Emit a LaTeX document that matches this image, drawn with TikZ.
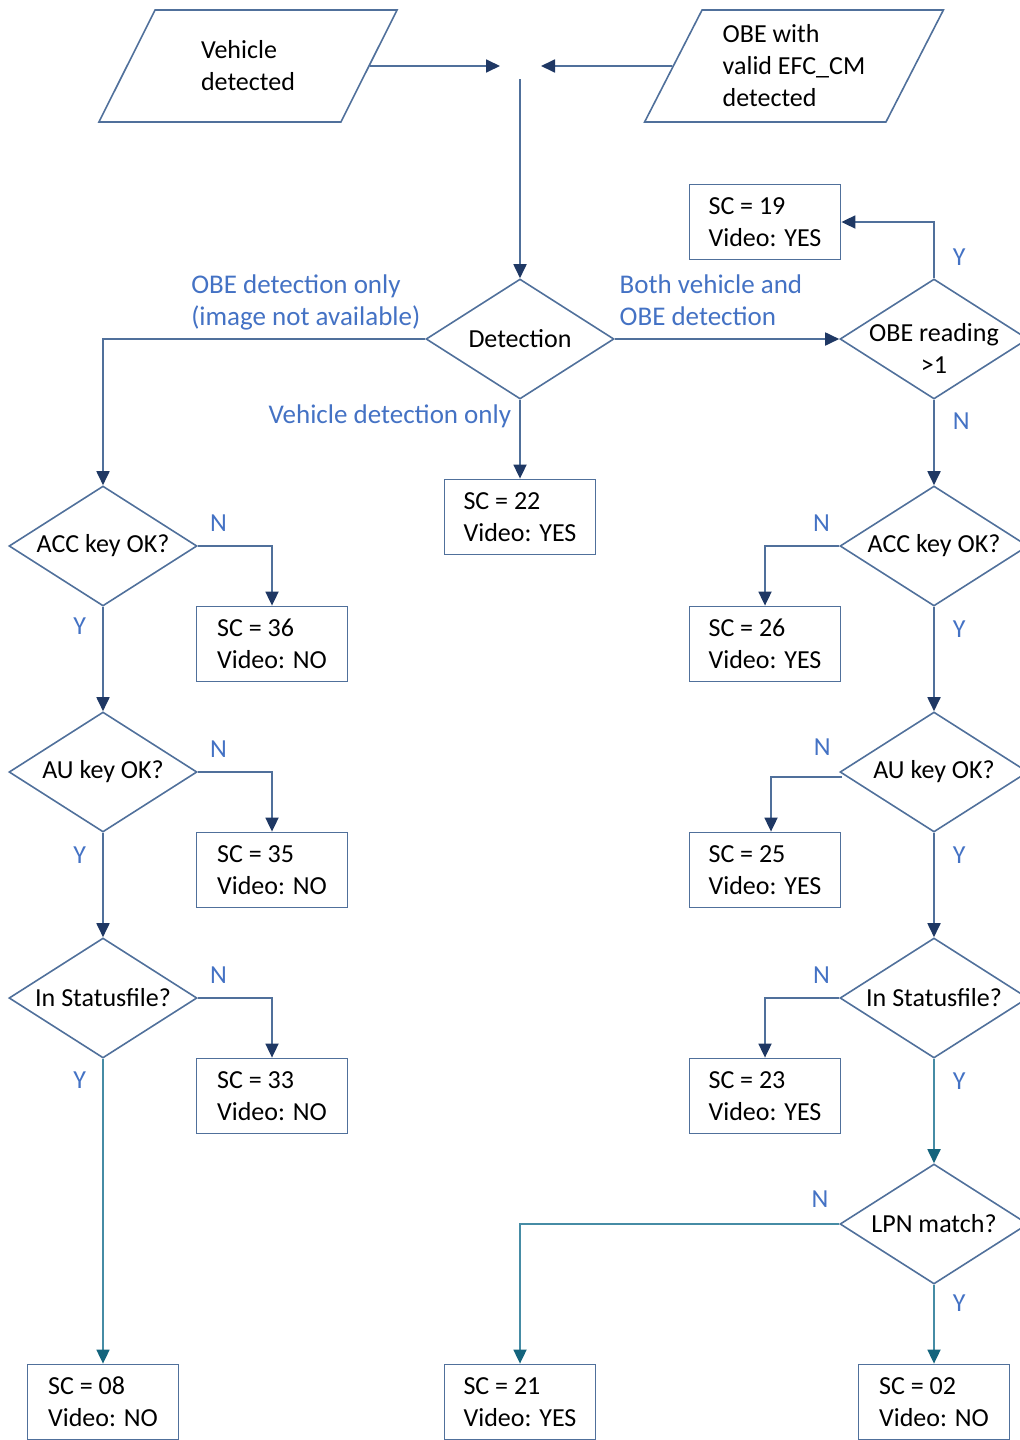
\documentclass[tikz,border=0pt]{standalone}
\usepackage{fontspec}
\setmainfont{Carlito}
\usepackage{xcolor}
\usepackage{tikz}
\usetikzlibrary{shapes.geometric,arrows.meta}
\definecolor{edge}{RGB}{80,112,155}
\definecolor{tip}{RGB}{31,56,100}
\definecolor{tealline}{RGB}{70,140,165}
\definecolor{tealtip}{RGB}{20,100,125}
\definecolor{lbl}{RGB}{68,114,196}

\begin{document}
\begin{tikzpicture}[x=0.5pt, y=-0.5pt, node distance=113pt, font=\fontsize{13}{16}\selectfont,
  io/.style = {draw=edge, line width=0.8pt, trapezium, trapezium left angle=63, trapezium right angle=117, trapezium stretches=true, minimum width=149.5pt, minimum height=56pt, align=left},
  dec/.style = {draw=edge, line width=0.8pt, diamond, aspect=1.567, minimum width=94pt, minimum height=60pt, inner sep=-2pt, align=center},
  res/.style = {draw=edge, line width=0.9pt, rectangle, minimum width=75.5pt, minimum height=37.5pt, align=left},
  flow/.style = {draw=edge, line width=0.9pt, -{Triangle[length=7pt,width=6.5pt,color=tip]}},
  tflow/.style = {draw=tealline, line width=0.9pt, -{Triangle[length=7pt,width=6.5pt,color=tealtip]}},
  yn/.style = {text=lbl, inner sep=1pt},
  note/.style = {text=lbl, align=left, inner sep=2pt, font=\fontsize{13.5}{16}\selectfont}]
\useasboundingbox (0,0) rectangle (1020,1440);
\node[io] (veh) at (248,66) {Vehicle\\detected};
\node[io] (obe) at (794,66) {OBE with\\valid EFC\_CM\\detected};
\coordinate (jl) at (500,66);
\coordinate (jr) at (541,66);
\coordinate (jd) at (520,79);
\node[dec] (det) at (520,339) {Detection};
\node[dec] (rd) at (934,339) [label={[align=center, yshift=-4.5pt]center:{OBE reading\\>1}}] {};
\node[res] (s19) at (765,222) {SC = 19\\Video: YES};
\node[res] (s22) at (520,517) {SC = 22\\Video: YES};
\node[dec] (accl) at (103,546) {ACC key OK?};
\node[dec] (aul) [below of=accl] {AU key OK?};
\node[dec] (stl) [below of=aul] {In Statusfile?};
\node[res] (s36) at (272,644) {SC = 36\\Video: NO};
\node[res] (s35) at (272,870) {SC = 35\\Video: NO};
\node[res] (s33) at (272,1096) {SC = 33\\Video: NO};
\node[res] (s08) at (103,1402) {SC = 08\\Video: NO};
\node[dec] (accr) at (934,546) {ACC key OK?};
\node[dec] (aur) [below of=accr] {AU key OK?};
\node[dec] (str) [below of=aur] {In Statusfile?};
\node[dec] (lpn) [below of=str] {LPN match?};
\node[res] (s26) at (765,644) {SC = 26\\Video: YES};
\node[res] (s25) at (765,870) {SC = 25\\Video: YES};
\node[res] (s23) at (765,1096) {SC = 23\\Video: YES};
\node[res] (s21) at (520,1402) {SC = 21\\Video: YES};
\node[res] (s02) at (934,1402) {SC = 02\\Video: NO};
\draw[flow] (veh.east) -- (jl);
\draw[flow] (obe.west) -- (jr);
\draw[flow] (jd) -- (det.north);
\draw[flow] (det.west) -| node[pos=0, note, above left, yshift=2pt] {OBE detection only\\(image not available)} (accl.north);
\draw[flow] (det.east) -- node[pos=0, note, above right, yshift=4pt] {Both vehicle and\\OBE detection} (rd.west);
\draw[flow] (det.south) -- node[pos=0, note, below left, xshift=-2pt] {Vehicle detection only} (s22.north);
\draw[flow] (rd.north) |- node[pos=0.19, yn, right=8pt] {Y} (s19.east);
\draw[flow] (rd.south) -- node[pos=0.25, yn, right=8pt] {N} (accr.north);
\draw[flow] (accl.east) -| node[pos=0.14, yn, above=6pt] {N} (s36.north);
\draw[flow] (accl.south) -- node[pos=0.19, yn, left=7pt] {Y} (aul.north);
\draw[flow] (aul.east) -| node[pos=0.14, yn, above=6pt] {N} (s35.north);
\draw[flow] (aul.south) -- node[pos=0.21, yn, left=7pt] {Y} (stl.north);
\draw[flow] (stl.east) -| node[pos=0.14, yn, above=6pt] {N} (s33.north);
\draw[tflow] (stl.south) -- node[pos=0.07, yn, left=7pt] {Y} (s08.north);
\draw[flow] (accr.west) -| node[pos=0.12, yn, above=6pt] {N} (s26.north);
\draw[flow] (accr.south) -- node[pos=0.21, yn, right=8pt] {Y} (aur.north);
\draw[flow] ([xshift=1.5pt,yshift=-2.5pt]aur.west) -| node[pos=0.14, yn, above=9.5pt] {N} ([xshift=3pt]s25.north);
\draw[flow] (aur.south) -- node[pos=0.21, yn, right=8pt] {Y} (str.north);
\draw[flow] (str.west) -| node[pos=0.12, yn, above=6pt] {N} (s23.north);
\draw[tflow] (str.south) -- node[pos=0.21, yn, right=8pt] {Y} (lpn.north);
\draw[tflow] (lpn.west) -| node[pos=0.03, yn, above=7pt] {N} (s21.north);
\draw[tflow] (lpn.south) -- node[pos=0.23, yn, right=8pt] {Y} (s02.north);
\end{tikzpicture}
\end{document}
